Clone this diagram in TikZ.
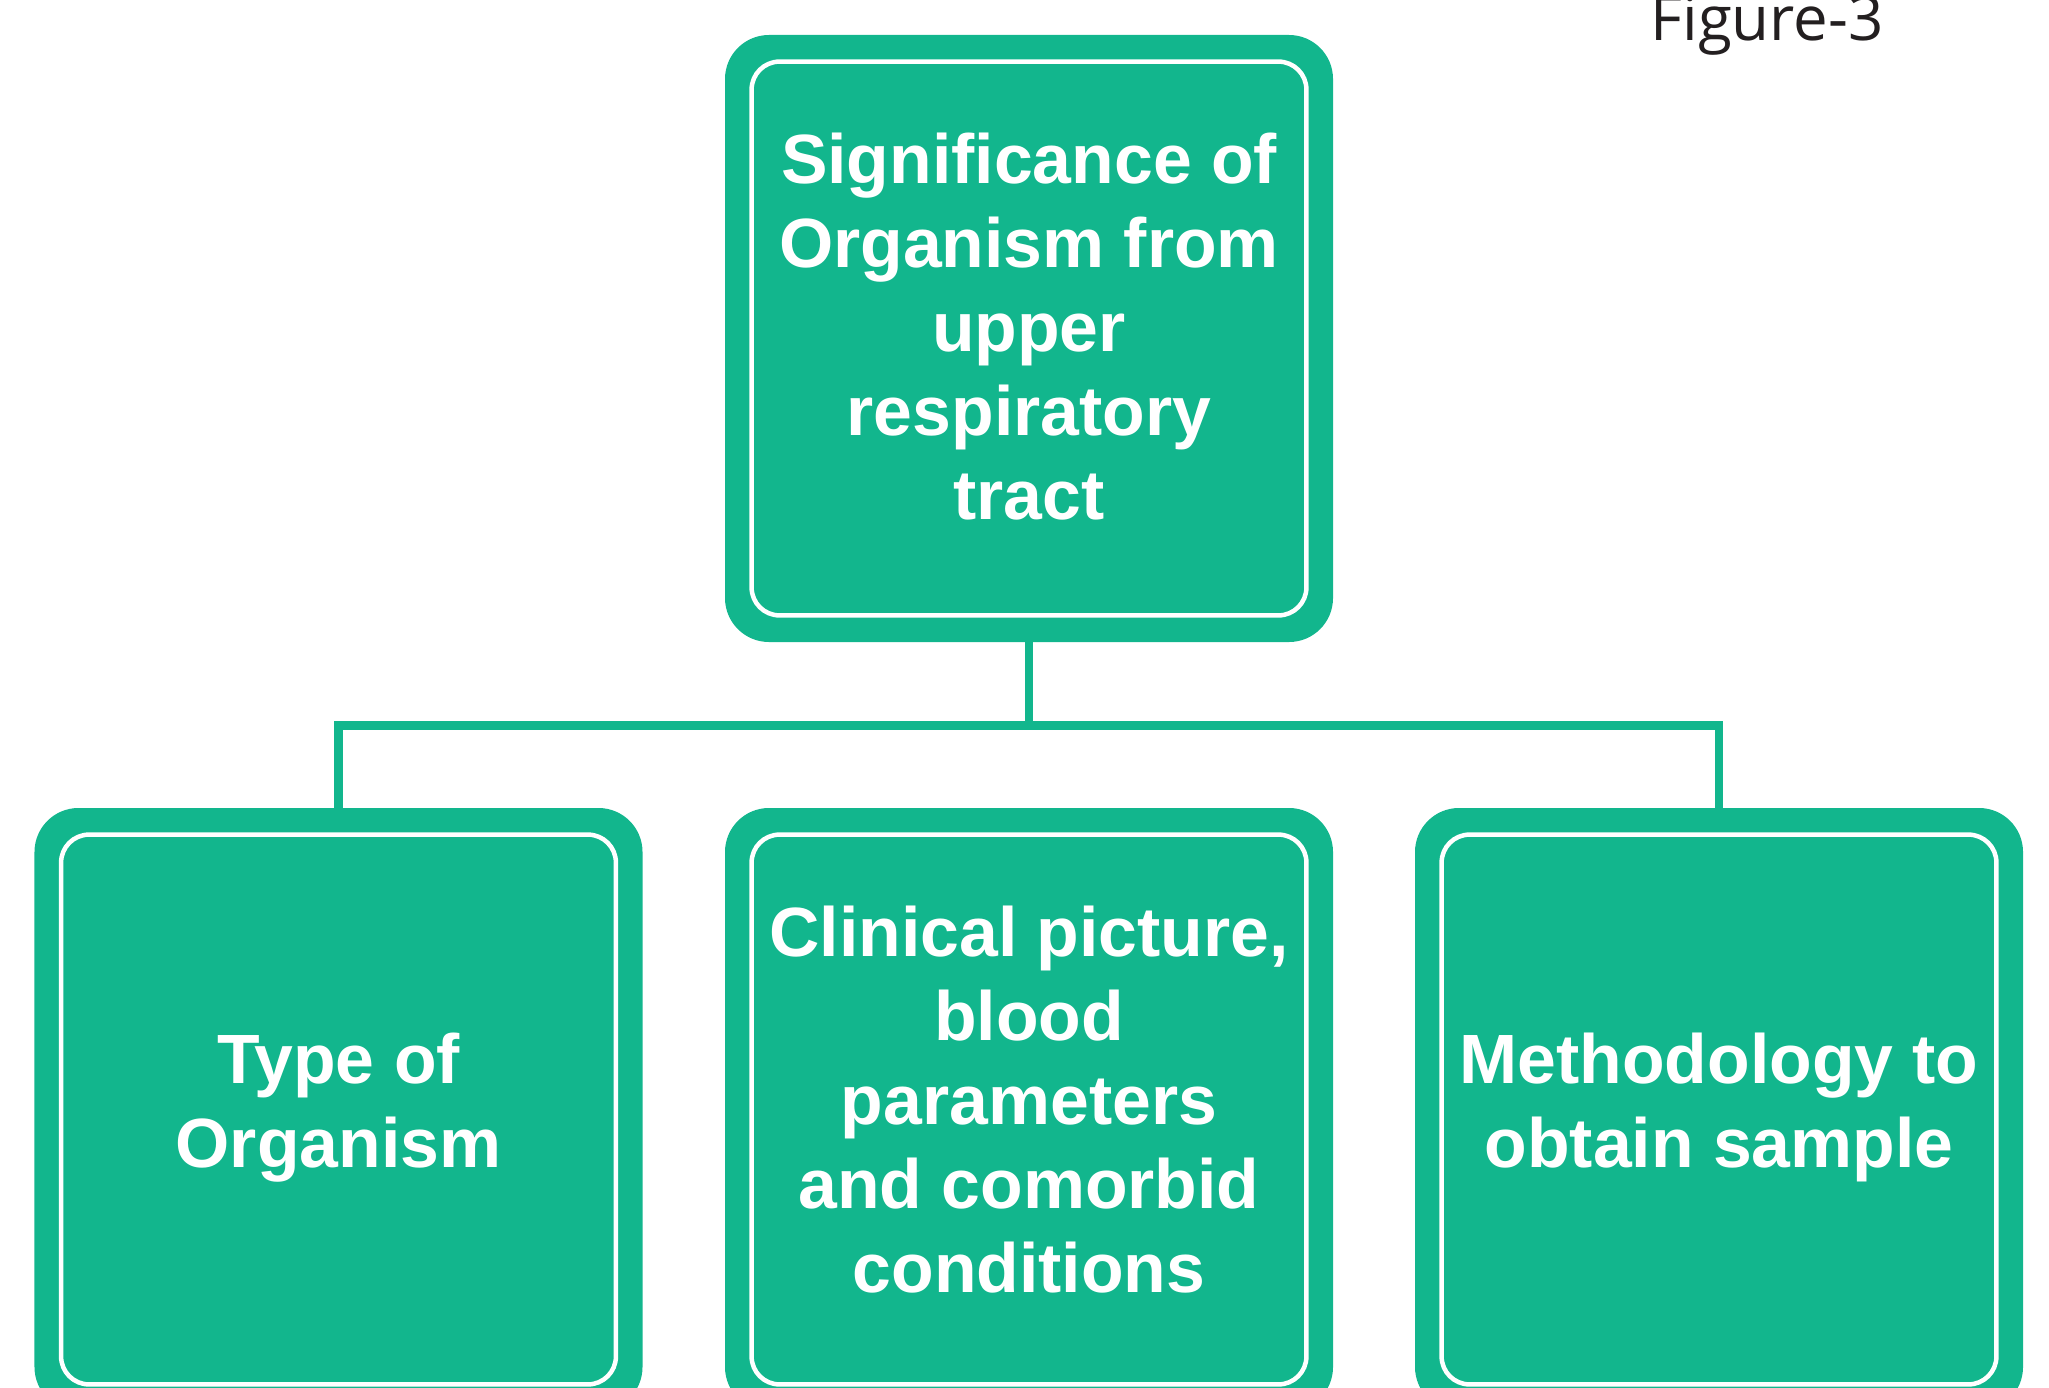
\documentclass[tikz,border=0pt]{standalone}
\usepackage{fontspec}
\setmainfont{Liberation Sans}
\newfontfamily\captionfont{Open Sans}
\definecolor{boxgreen}{RGB}{18,182,141}
\definecolor{figgray}{RGB}{35,31,32}

\begin{document}
\begin{tikzpicture}[x=0.5bp, y=-0.5bp, line join=miter,
    outerbox/.style={fill=boxgreen, rounded corners=22bp, minimum width=304bp, inner sep=0pt},
    frame/.style={draw=white, line width=2.25bp, rounded corners=14bp},
    boxtext/.style={text=white, font=\fontsize{35}{42.25}\selectfont\bfseries, align=center},
    link/.style={draw=boxgreen, line width=4.25bp}]
  \useasboundingbox (0,0) rectangle (2049,1387);
  \clip (0,0) rectangle (2049,1387);

  % top box
  \node[outerbox, minimum height=303.5bp] (sig) at (1029,338.5) {};
  \draw[frame] ([shift={(13.5bp,-13.5bp)}]sig.north west) rectangle ([shift={(-13.5bp,13.5bp)}]sig.south east);
  \node[boxtext] (sigtext) at (1029,326.5) {Significance of\\Organism from\\upper\\respiratory\\tract};

  % bottom boxes
  \foreach \name/\x/\y/\txt in {type/338.5/1107.5/{Type of\\Organism},
      clin/1029/1099.5/{Clinical picture,\\blood\\parameters\\and comorbid\\conditions},
      meth/1719/1107.5/{Methodology to\\obtain sample}} {
    \node[outerbox, minimum height=301.5bp] (\name) at (\x,1109.5) {};
    \draw[frame] ([shift={(13.5bp,-13.5bp)}]\name.north west) rectangle ([shift={(-13.5bp,13.5bp)}]\name.south east);
    \node[boxtext] (\name text) at (\x,\y) {\txt};
  }

  % connectors
  \coordinate (hub) at (1029,725.5);
  \draw[link] (sig.south) -- (hub);
  \draw[link] (type.north) |- (hub) -| (meth.north);

  \node[font=\captionfont\fontsize{31}{36}\selectfont, text=figgray, anchor=base east, inner sep=0pt] (fig) at (1884,40.7) {Figure-3};
\end{tikzpicture}
\end{document}
